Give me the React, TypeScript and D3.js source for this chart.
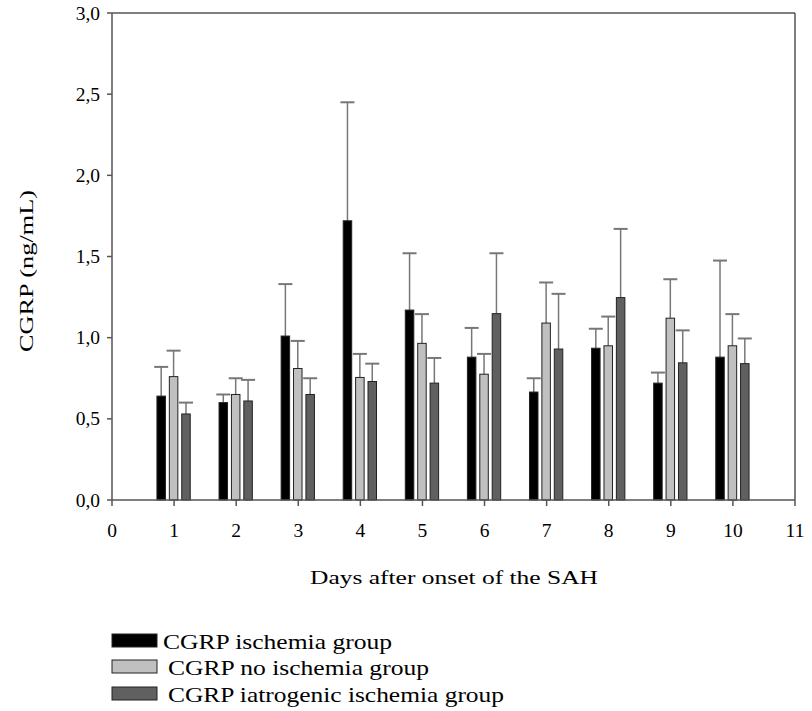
import React from "react";
import * as d3 from "d3";

const days = [1, 2, 3, 4, 5, 6, 7, 8, 9, 10];
const seriesNames = ["CGRP ischemia group", "CGRP no ischemia group", "CGRP iatrogenic ischemia group"];
const seriesColors = ["#000000", "#c0c0c0", "#606060"];
const ischemiaMean = [0.64, 0.6, 1.01, 1.72, 1.17, 0.88, 0.665, 0.935, 0.72, 0.88];
const ischemiaUpper = [0.82, 0.65, 1.33, 2.45, 1.52, 1.06, 0.75, 1.055, 0.785, 1.475];
const noIschemiaMean = [0.76, 0.65, 0.81, 0.755, 0.965, 0.775, 1.09, 0.95, 1.12, 0.95];
const noIschemiaUpper = [0.92, 0.75, 0.98, 0.9, 1.145, 0.9, 1.34, 1.13, 1.36, 1.145];
const iatroMean = [0.53, 0.61, 0.65, 0.73, 0.72, 1.148, 0.93, 1.247, 0.845, 0.84];
const iatroUpper = [0.6, 0.74, 0.75, 0.84, 0.875, 1.52, 1.27, 1.67, 1.045, 0.995];
const yTicks = [0, 0.5, 1.0, 1.5, 2.0, 2.5, 3.0];
const xTicks = [0, 1, 2, 3, 4, 5, 6, 7, 8, 9, 10, 11];

const means = [ischemiaMean, noIschemiaMean, iatroMean];
const uppers = [ischemiaUpper, noIschemiaUpper, iatroUpper];

export default function App() {
  const W = 812, H = 711;
  const left = 112, right = 795, top = 13, bottom = 500;
  const x = d3.scaleLinear().domain([0, 11]).range([left, right]);
  const y = d3.scaleLinear().domain([0, 3]).range([bottom, top]);
  const barW = 8.5;
  const step = 12.4;
  const font = "'Liberation Serif', 'Times New Roman', Times, Tinos, 'Nimbus Roman', 'Noto Serif', FreeSerif, 'DejaVu Serif', serif";
  const axisColor = "#555";
  const errColor = "#777";
  const ts = { fontFamily: font };

  return (
    <div style={{ position: "absolute", left: 0, top: 0 }}>
      <svg width={W} height={H} style={{ display: "block", background: "#fff" }}>
        <line x1={left} x2={right} y1={top} y2={top} stroke={axisColor} strokeWidth={1.5} />
        <line x1={right} x2={right} y1={top} y2={bottom} stroke={axisColor} strokeWidth={1.5} />
        {means.map((arr, si) =>
          arr.map((v, i) => {
            const cx = x(days[i]) + (si - 1) * step - 0.5;
            const up = uppers[si][i];
            return (
              <g key={`${si}-${i}`}>
                <line x1={cx} x2={cx} y1={y(up)} y2={y(v)} stroke={errColor} strokeWidth={1.5} />
                <line x1={cx - 7} x2={cx + 7} y1={y(up)} y2={y(up)} stroke={errColor} strokeWidth={2} />
                <rect x={cx - barW / 2} y={y(v)} width={barW} height={y(0) - y(v)} fill={seriesColors[si]} stroke="#222" strokeWidth={1} />
              </g>
            );
          })
        )}
        <line x1={left} x2={left} y1={top} y2={bottom} stroke={axisColor} strokeWidth={1.5} />
        <line x1={left} x2={right} y1={bottom} y2={bottom} stroke={axisColor} strokeWidth={1.5} />
        {yTicks.map((t) => (
          <g key={`y${t}`}>
            <line x1={left - 5} x2={left} y1={y(t)} y2={y(t)} stroke={axisColor} strokeWidth={1.5} />
            <text x={left - 12} y={y(t) + 6.5} textAnchor="end" style={ts} fontSize={19.5} fill="#000">
              {t.toFixed(1).replace(".", ",")}
            </text>
          </g>
        ))}
        {xTicks.map((t) => (
          <g key={`x${t}`}>
            <line x1={x(t)} x2={x(t)} y1={bottom} y2={bottom + 6} stroke={axisColor} strokeWidth={1.5} />
            <text x={x(t)} y={537} textAnchor="middle" style={ts} fontSize={19.5} fill="#000">
              {t}
            </text>
          </g>
        ))}
        <text x={454} y={584} textAnchor="middle" style={ts} fontSize={19.5} fill="#000" textLength={288} lengthAdjust="spacingAndGlyphs">
          Days after onset of the SAH
        </text>
        <text transform="translate(33,271) rotate(-90)" textAnchor="middle" style={ts} fontSize={19.5} fill="#000" textLength={162} lengthAdjust="spacingAndGlyphs">
          CGRP (ng/mL)
        </text>
        {seriesNames.map((name, i) => {
          const ry = [634, 660, 687][i];
          const tw = [229, 261, 336][i];
          const tx = i === 0 ? 163 : 168;
          return (
            <g key={name}>
              <rect x={112} y={ry} width={45} height={13} fill={seriesColors[i]} stroke="#222" strokeWidth={1} />
              <text x={tx} y={ry + 15} style={ts} fontSize={21} fill="#000" textLength={tw} lengthAdjust="spacingAndGlyphs">
                {name}
              </text>
            </g>
          );
        })}
      </svg>
    </div>
  );
}
